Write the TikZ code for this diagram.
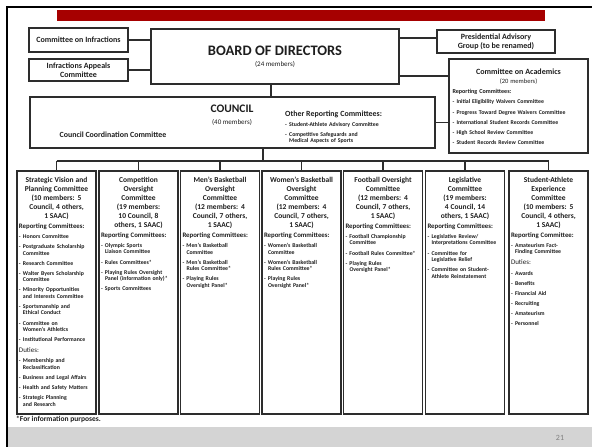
\documentclass[tikz,border=0pt]{standalone}
\usepackage{fontspec}
\setmainfont{Carlito}
\usetikzlibrary{positioning}
\definecolor{slide-red}{RGB}{166,0,0}
\definecolor{box-line}{RGB}{45,45,45}
\definecolor{ink}{RGB}{30,30,30}
\definecolor{foot-gray}{RGB}{212,212,212}
\tikzstyle{orgbox}=[draw=box-line,line width=1.1pt,rectangle,inner sep=0pt,text=ink]
\tikzstyle{colbox}=[orgbox,minimum width=79pt,minimum height=243pt]
\tikzstyle{smallbox}=[orgbox,align=center,font=\fontsize{8}{9}\selectfont\bfseries]
\tikzstyle{listtext}=[inner sep=0pt,align=left,text=ink,font=\fontsize{5.8}{6.5}\selectfont\bfseries]
\tikzstyle{orgline}=[draw=box-line,line width=1.1pt]
% column heading, centred
\newcommand{\colhead}[1]{{\centering\fontsize{7.5}{9}\selectfont #1\par}}
% "Reporting Committees:" line
\newcommand{\rephead}[2][6.8]{\par\vspace{2.6pt}{\fontsize{#1}{7.5}\selectfont #2\par}}
\newcommand{\dutyhead}[1]{\par\vspace{3pt}{\fontsize{7}{8}\selectfont\mdseries #1\par}}
% one list entry, second line hangs under the text
\newcommand{\li}[1]{\par\vspace{3.6pt}{\hangindent=4pt\hangafter=1\noindent\makebox[4pt][l]{-}#1\par}}

\begin{document}
\begin{tikzpicture}[x=1pt,y=-1pt]
	\useasboundingbox (0,0) rectangle (592,447);
	\fill[white] (0,0) rectangle (592,447);
	% slide frame
	\fill[foot-gray] (8,427) rectangle (592,447);
	\fill[slide-red] (57,9.5) rectangle (545,21);
	\draw[line width=2pt] (592,7) -- (7,7) -- (7,447);
	\node[text=gray,font=\fontsize{8}{9}\selectfont] (pagenum) at (560,437.5) {21};
	% top row
	\node[orgbox,minimum width=248pt,minimum height=55pt,align=center] (board) at (275,56.5)
		{{\fontsize{14.5}{16}\selectfont\bfseries BOARD OF DIRECTORS}\\[-1pt]{\fontsize{7}{8}\selectfont (24 members)}};
	\node[smallbox,minimum width=99pt,minimum height=24pt] (infractions) at (78.5,40) {Committee on Infractions};
	\node[smallbox,minimum width=99pt,minimum height=22pt] (appeals) at (78.5,70) {Infractions Appeals\\Committee};
	\node[smallbox,minimum width=118pt,minimum height=23pt] (advisory) at (496,41.5) {Presidential Advisory\\Group (to be renamed)};
	\node[orgbox,minimum width=139pt,minimum height=94pt] (academics) at (518.5,106) {};
	\node[listtext,text width=132pt,below=10pt of academics.north] (acadtxt) {%
		{\centering\fontsize{8}{9.5}\selectfont Committee on Academics\\\mdseries\fontsize{6.5}{9.5}\selectfont (20 members)\par}
		\rephead[6.1]{Reporting Committees:}
		\li{Initial Eligibility Waivers Committee}
		\li{Progress Toward Degree Waivers Committee}
		\li{International Student Records Committee}
		\li{High School Review Committee}
		\li{Student Records Review Committee}};
	% council
	\node[orgbox,minimum width=405pt,minimum height=51pt] (council) at (232.5,122.5) {};
	\node[inner sep=0pt,align=center,text=ink] (counciltitle) at (232,115)
		{{\fontsize{11.5}{13}\selectfont\bfseries COUNCIL}\\{\fontsize{7}{8}\selectfont (40 members)}};
	\node[inner sep=0pt,text=ink,font=\fontsize{7.9}{9}\selectfont\bfseries] (coordination) at (113,135) {Council Coordination Committee};
	\node[listtext,text width=150pt,anchor=north west] (otherrep) at (285,110.5) {%
		{\fontsize{7.9}{9}\selectfont Other Reporting Committees:\par}
		\li{Student-Athlete Advisory Committee}
		\li{Competitive Safeguards and\newline Medical Aspects of Sports}};
	% the seven committees
	\foreach \i/\cx in {1/56.5,2/138.5,3/220,4/301.5,5/383,6/465,7/548.5}
		\node[colbox] (col\i) at (\cx,292.5) {};
	\node[listtext,text width=75pt,below=6.3pt of col1.north] (col1txt) {%
		\colhead{Strategic Vision and\\Planning Committee\\(10 members: 5\\Council, 4 others,\\1 SAAC)}
		\rephead{Reporting Committees:}
		\li{Honors Committee}
		\li{Postgraduate Scholarship\newline Committee}
		\li{Research Committee}
		\li{Walter Byers Scholarship\newline Committee}
		\li{Minority Opportunities\newline and Interests Committee}
		\li{Sportsmanship and\newline Ethical Conduct}
		\li{Committee on\newline Women's Athletics}
		\li{Institutional Performance}
		\dutyhead{Duties:}
		\li{Membership and\newline Reclassification}
		\li{Business and Legal Affairs}
		\li{Health and Safety Matters}
		\li{Strategic Planning\newline and Research}};
	\node[listtext,text width=75pt,below=6.3pt of col2.north] (col2txt) {%
		\colhead{Competition\\Oversight\\Committee\\(19 members:\\10 Council, 8\\others, 1 SAAC)}
		\rephead{Reporting Committees:}
		\li{Olympic Sports\newline Liaison Committee}
		\li{Rules Committees*}
		\li{Playing Rules Oversight\newline Panel (information only)*}
		\li{Sports Committees}};
	\node[listtext,text width=75pt,below=6.3pt of col3.north] (col3txt) {%
		\colhead{Men's Basketball\\Oversight\\Committee\\(12 members: 4\\Council, 7 others,\\1 SAAC)}
		\rephead{Reporting Committees:}
		\li{Men's Basketball\newline Committee}
		\li{Men's Basketball\newline Rules Committee*}
		\li{Playing Rules\newline Oversight Panel*}};
	\node[listtext,text width=75pt,below=6.3pt of col4.north] (col4txt) {%
		\colhead{Women's Basketball\\Oversight\\Committee\\(12 members: 4\\Council, 7 others,\\1 SAAC)}
		\rephead{Reporting Committees:}
		\li{Women's Basketball\newline Committee}
		\li{Women's Basketball\newline Rules Committee*}
		\li{Playing Rules\newline Oversight Panel*}};
	\node[listtext,text width=75pt,below=6.3pt of col5.north] (col5txt) {%
		\colhead{Football Oversight\\Committee\\(12 members: 4\\Council, 7 others,\\1 SAAC)}
		\rephead{Reporting Committees:}
		\li{Football Championship\newline Committee}
		\li{Football Rules Committee*}
		\li{Playing Rules\newline Oversight Panel*}};
	\node[listtext,text width=75pt,below=6.3pt of col6.north] (col6txt) {%
		\colhead{Legislative\\Committee\\(19 members:\\4 Council, 14\\others, 1 SAAC)}
		\rephead{Reporting Committees:}
		\li{Legislative Review/\newline Interpretations Committee}
		\li{Committee for\newline Legislative Relief}
		\li{Committee on Student-\newline Athlete Reinstatement}};
	\node[listtext,text width=75pt,below=6.3pt of col7.north] (col7txt) {%
		\colhead{Student-Athlete\\Experience\\Committee\\(10 members: 5\\Council, 4 others,\\1 SAAC)}
		\rephead{Reporting Committee:}
		\li{Amateurism Fact-\newline Finding Committee}
		\dutyhead{Duties:}
		\li{Awards}
		\li{Benefits}
		\li{Financial Aid}
		\li{Recruiting}
		\li{Amateurism}
		\li{Personnel}};
	\node[anchor=west,inner sep=0pt,text=ink,font=\fontsize{7.5}{9}\selectfont\bfseries] (footnote) at (16,419.5) {*For information purposes.};
	% connectors
	\coordinate (advisorylink) at (437,38);
	\coordinate (academicslink) at (449,76);
	\coordinate (boardlink) at (271,84);
	\coordinate (bus) at (263,161);
	\draw[orgline] (infractions.east) -- (infractions.east -| board.west);
	\draw[orgline] (appeals.east) -- (appeals.east -| board.west);
	\draw[orgline] (advisorylink -| board.east) -- (advisorylink);
	\draw[orgline] (academicslink -| board.east) -- (academicslink);
	\draw[orgline] (council.east) -- (council.east -| academics.west);
	\draw[orgline] (boardlink) -- (boardlink |- council.north);
	\draw[orgline] (bus |- council.south) -- (bus);
	\draw[orgline] (bus -| col1.north) -- (bus -| col7.north);
	\foreach \i in {1,...,7}
		\draw[orgline] (bus -| col\i.north) -- (col\i.north);
\end{tikzpicture}
\end{document}
